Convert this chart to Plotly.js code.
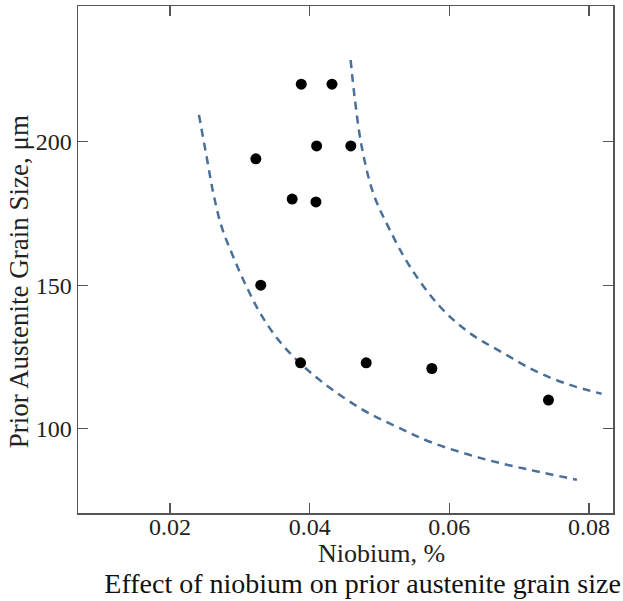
<!DOCTYPE html>
<html>
<head>
<meta charset="utf-8">
<script src="https://cdn.plot.ly/plotly-3.0.1.min.js"></script>
<style>html,body{margin:0;padding:0;background:#fff;}#chart{width:623px;height:601px;}</style>
</head>
<body>
<div id="chart"></div>
<script>
// Measured data points (Niobium %, prior austenite grain size µm)
const niobium = [0.0323, 0.0330, 0.0375, 0.0387, 0.0388, 0.0409, 0.0410, 0.0432, 0.0459, 0.0481, 0.0575, 0.0742];
const grainSize = [194, 150, 180, 123, 220, 179, 198.5, 220, 198.5, 123, 121, 110];

// Lower dashed band curve
const lowerX = [0.02415, 0.02525, 0.02620, 0.02740, 0.02906, 0.03098, 0.03289, 0.03528, 0.03814, 0.04195, 0.04763, 0.05250, 0.05722, 0.06438, 0.07154, 0.07827];
const lowerY = [209.3, 194.7, 182.1, 170.3, 159.9, 149.4, 140.4, 131.7, 124.0, 116.0, 106.6, 100.7, 95.5, 89.9, 85.7, 82.3];

// Upper dashed band curve
const upperX = [0.04587, 0.04649, 0.04745, 0.04911, 0.05125, 0.05436, 0.05865, 0.06295, 0.06772, 0.07250, 0.07727, 0.08180];
const upperY = [228.4, 214.5, 198.3, 182.0, 170.4, 156.5, 142.6, 133.3, 126.4, 119.9, 115.3, 112.2];

const xTicks = [0.02, 0.04, 0.06, 0.08];
const xTickText = ['0.02', '0.04', '0.06', '0.08'];
const yTicks = [100, 150, 200];
const yTickText = ['100', '150', '200'];

const chartTitle = 'Effect of niobium on prior austenite grain size';
const xTitle = 'Niobium, %';
const yTitle = 'Prior Austenite Grain Size, μm';

const serif = '"Liberation Serif", "DejaVu Serif", serif';
const dashColor = '#4a7099';

const traces = [
  {x: lowerX, y: lowerY, mode: 'lines', line: {color: dashColor, width: 2.5, dash: '8px,6px', shape: 'spline', smoothing: 1}, hoverinfo: 'skip'},
  {x: upperX, y: upperY, mode: 'lines', line: {color: dashColor, width: 2.5, dash: '8px,6px', shape: 'spline', smoothing: 1}, hoverinfo: 'skip'},
  {x: niobium, y: grainSize, mode: 'markers', marker: {color: '#000', size: 11}}
];

const axisCommon = {
  showline: true, linecolor: '#555', linewidth: 1.5, mirror: 'ticks',
  ticks: 'inside', ticklen: 10, tickwidth: 1.3, tickcolor: '#555',
  showgrid: false, zeroline: false,
  tickfont: {family: serif, size: 24, color: '#222'}
};

const layout = {
  width: 623, height: 601,
  margin: {l: 78, r: 10, t: 6, b: 88},
  paper_bgcolor: '#fff', plot_bgcolor: '#fff',
  showlegend: false,
  font: {family: serif, color: '#222'},
  xaxis: Object.assign({}, axisCommon, {range: [0.00683, 0.08344], tickvals: xTicks, ticktext: xTickText, ticklabelstandoff: -8}),
  yaxis: Object.assign({}, axisCommon, {range: [70.7, 247.2], tickvals: yTicks, ticktext: yTickText}),
  title: {text: chartTitle, font: {family: serif, size: 28, color: '#111'}, xref: 'container', yref: 'container', x: 0.582, xanchor: 'center', y: 0.03, yanchor: 'middle'},
  annotations: [
    {text: xTitle, xref: 'paper', yref: 'paper', x: 0.568, y: -0.08, xanchor: 'center', yanchor: 'middle', showarrow: false, font: {family: serif, size: 26, color: '#222'}},
    {text: yTitle, xref: 'paper', yref: 'paper', x: -0.11, y: 0.4556, xanchor: 'center', yanchor: 'middle', textangle: -90, showarrow: false, font: {family: serif, size: 27, color: '#222'}}
  ]
};

Plotly.newPlot('chart', traces, layout, {staticPlot: true, displayModeBar: false});
</script>
</body>
</html>
